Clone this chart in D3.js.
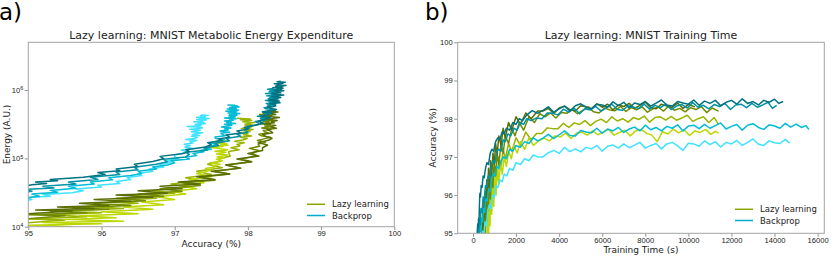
<!DOCTYPE html>
<html>
<head>
<meta charset="utf-8">
<script src="https://d3js.org/d3.v7.min.js"></script>
<style>
body { margin: 0; background: #fff; }
svg { display: block; font-family: "DejaVu Sans", sans-serif; }
</style>
</head>
<body>
<svg id="chart" width="831" height="257"></svg>
<script>
// each run: [training time (s), accuracy (%), energy (thousand A.U.)]
var lazyRun1 = [
	[300, 94.3, 12], [400, 94.8, 15], [450, 95.6, 17], [480, 95.1, 17.5], [510, 95.9, 18.5], [540, 95.4, 19.5],
	[570, 96.1, 20.5], [600, 95.7, 22], [640, 96.4, 23.5], [680, 95.9, 25], [720, 96.7, 27], [770, 96.2, 29],
	[820, 96.9, 31], [870, 96.5, 33.5], [930, 97.1, 36], [990, 96.8, 39], [1050, 97.35, 42], [1120, 97.05, 45],
	[1200, 97.55, 49], [1300, 97.3, 54], [1400, 97.75, 59], [1500, 97.5, 65], [1650, 97.9, 72], [1800, 97.7, 80],
	[2000, 98.05, 89], [2200, 97.85, 98], [2450, 98.15, 108], [2700, 98.0, 118], [3000, 98.2, 130],
	[3250, 98.2, 143], [3500, 98.27, 157], [3750, 98.14, 170], [4000, 98.28, 184], [4250, 98.33, 197],
	[4500, 98.24, 210], [4750, 98.2, 224], [5000, 98.34, 237], [5250, 98.31, 251], [5500, 98.26, 264],
	[5750, 98.39, 277], [6000, 98.3, 291], [6250, 98.38, 304], [6500, 98.23, 318], [6750, 98.36, 331],
	[7000, 98.32, 344], [7250, 98.4, 358], [7500, 98.27, 371], [7750, 98.35, 385], [8000, 98.43, 398],
	[8250, 98.29, 411], [8500, 98.26, 425], [8750, 98.38, 438], [9000, 98.33, 452], [9250, 98.3, 465],
	[9500, 98.41, 478], [9750, 98.27, 492], [10000, 98.37, 505], [10300, 98.31, 520]
];
var lazyRun2 = [
	[350, 94.2, 10], [450, 94.8, 12.5], [520, 95.5, 14.5], [550, 95.0, 15], [590, 95.8, 16], [630, 95.3, 17],
	[670, 96.1, 18], [710, 95.6, 19], [760, 96.4, 20.5], [810, 95.9, 22], [860, 96.6, 24], [920, 96.2, 26],
	[980, 96.85, 28], [1050, 96.5, 30], [1120, 97.1, 33], [1200, 96.8, 36], [1300, 97.35, 40], [1400, 97.1, 44],
	[1500, 97.55, 48], [1650, 97.35, 53], [1800, 97.75, 59], [1950, 97.55, 65], [2150, 97.9, 72], [2350, 97.7, 80],
	[2600, 98.05, 89], [2850, 97.9, 98],
	[3100, 98.13, 109], [3350, 98.05, 119], [3600, 98.15, 130], [3850, 98.02, 140], [4100, 98.16, 151],
	[4350, 98.14, 162], [4600, 98.24, 172], [4850, 98.13, 183], [5100, 98.22, 193], [5350, 98.31, 204],
	[5600, 98.18, 215], [5850, 98.15, 225], [6100, 98.28, 236], [6350, 98.23, 246], [6600, 98.21, 257],
	[6850, 98.32, 267], [7100, 98.19, 278], [7350, 98.29, 289], [7600, 98.23, 299], [7850, 98.31, 310],
	[8100, 98.17, 320], [8350, 98.26, 331], [8600, 98.3, 342], [8850, 98.2, 352], [9100, 98.34, 363],
	[9350, 98.22, 373], [9600, 98.27, 384], [9850, 98.18, 394], [10100, 98.29, 405], [10350, 98.24, 416],
	[10600, 98.32, 426], [10850, 98.16, 437], [11100, 98.28, 447], [11400, 98.2, 460]
];
var lazyRun3 = [
	[400, 94.3, 9], [500, 94.8, 11], [560, 95.5, 12.5], [590, 95.0, 13], [630, 95.8, 14], [670, 95.3, 15],
	[710, 96.0, 16], [760, 95.5, 17], [810, 96.3, 18.5], [860, 95.8, 20], [920, 96.5, 22], [980, 96.1, 24],
	[1050, 96.75, 26], [1120, 96.4, 28.5], [1200, 97.0, 31], [1300, 96.7, 34], [1400, 97.2, 38], [1500, 96.95, 42],
	[1650, 97.35, 47], [1800, 97.15, 52], [2000, 97.5, 58], [2200, 97.3, 65], [2450, 97.65, 73], [2700, 97.45, 82],
	[2950, 97.61, 91], [3200, 97.61, 99], [3450, 97.76, 108], [3700, 97.74, 117], [3950, 97.74, 126],
	[4200, 97.88, 134], [4450, 97.77, 143], [4700, 97.89, 152], [4950, 97.85, 160], [5200, 97.95, 169],
	[5450, 97.82, 178], [5700, 97.93, 186], [5950, 97.99, 195], [6200, 97.9, 204], [6450, 98.05, 213],
	[6700, 97.94, 221], [6950, 98.0, 230], [7200, 97.91, 239], [7450, 98.03, 247], [7700, 97.98, 256],
	[7950, 98.07, 265], [8200, 97.91, 273], [8450, 98.03, 282], [8700, 98.05, 291], [8950, 97.96, 300],
	[9200, 98.06, 308], [9450, 97.96, 317], [9700, 98.02, 326], [9950, 98.09, 334], [10200, 97.93, 343],
	[10450, 98.0, 352], [10700, 98.05, 360], [10950, 97.9, 369], [11200, 98.03, 378], [11400, 97.85, 386]
];
var lazyRun4 = [
	[550, 94.3, 7.5], [650, 94.8, 9], [700, 95.6, 10], [730, 95.0, 10.5], [760, 96.0, 11], [790, 95.2, 11.5],
	[830, 96.3, 12], [870, 95.5, 12.8], [910, 96.2, 13.5], [960, 95.7, 14.5], [1010, 96.5, 15.5], [1070, 96.0, 16.5],
	[1130, 96.7, 18], [1200, 96.3, 19.5], [1280, 96.85, 21], [1360, 96.55, 23], [1450, 97.0, 25], [1550, 96.75, 27.5],
	[1660, 97.15, 30], [1780, 96.95, 33], [1900, 97.3, 36], [2050, 97.1, 40], [2200, 97.4, 44], [2400, 97.2, 49],
	[2600, 97.5, 54], [2800, 97.3, 60],
	[3050, 97.42, 64], [3300, 97.49, 67], [3550, 97.42, 71], [3800, 97.55, 75], [4050, 97.52, 78],
	[4300, 97.62, 82], [4550, 97.48, 86], [4800, 97.62, 90], [5050, 97.65, 93], [5300, 97.57, 97],
	[5550, 97.68, 101], [5800, 97.58, 105], [6050, 97.65, 108], [6300, 97.72, 112], [6550, 97.57, 116],
	[6800, 97.64, 119], [7050, 97.7, 123], [7300, 97.55, 127], [7550, 97.68, 130], [7800, 97.72, 134],
	[8050, 97.62, 138], [8300, 97.57, 142], [8550, 97.4, 145], [8800, 97.66, 149], [9050, 97.6, 153],
	[9300, 97.73, 156], [9550, 97.63, 160], [9800, 97.71, 164], [10050, 97.56, 168], [10300, 97.68, 171],
	[10550, 97.64, 175], [10800, 97.72, 179], [11050, 97.59, 182], [11250, 97.67, 185], [11400, 97.62, 188]
];
var backpropRun1 = [
	[100, 94.2, 30], [160, 94.7, 36], [200, 95.05, 41], [220, 95.25, 43], [240, 95.1, 45], [260, 95.4, 47],
	[280, 95.3, 49], [300, 95.75, 53], [320, 96.05, 58], [350, 95.95, 62], [380, 96.25, 66], [420, 96.2, 70],
	[470, 96.5, 76], [520, 96.45, 82], [580, 96.7, 90], [650, 96.85, 99], [720, 96.8, 107], [800, 97.1, 117],
	[880, 97.2, 126], [960, 97.15, 134], [1050, 97.4, 145], [1150, 97.5, 158], [1250, 97.45, 170], [1350, 97.65, 182],
	[1450, 97.6, 193], [1550, 97.75, 204], [1700, 97.7, 220], [1850, 97.9, 236], [2000, 97.85, 252], [2150, 98.0, 268],
	[2300, 97.95, 284], [2500, 98.1, 305],
	[2750, 98.21, 327], [3000, 98.14, 349], [3250, 98.22, 370], [3500, 98.31, 392], [3750, 98.17, 413],
	[4000, 98.26, 435], [4250, 98.33, 457], [4500, 98.2, 478], [4750, 98.34, 500], [5000, 98.39, 521],
	[5250, 98.3, 543], [5500, 98.26, 565], [5750, 98.38, 586], [6000, 98.36, 608], [6250, 98.3, 629],
	[6500, 98.44, 651], [6750, 98.34, 673], [7000, 98.43, 694], [7250, 98.28, 716], [7500, 98.41, 737],
	[7750, 98.37, 759], [8000, 98.45, 781], [8250, 98.33, 802], [8500, 98.41, 824], [8750, 98.49, 845],
	[9000, 98.36, 867], [9250, 98.33, 889], [9500, 98.45, 910], [9750, 98.41, 932], [10000, 98.38, 953],
	[10250, 98.49, 975], [10500, 98.35, 997], [10750, 98.46, 1018], [11000, 98.4, 1040], [11250, 98.48, 1061],
	[11500, 98.34, 1083], [11750, 98.43, 1105], [12000, 98.48, 1126], [12250, 98.38, 1148], [12500, 98.52, 1169],
	[12750, 98.4, 1191], [13000, 98.45, 1213], [13250, 98.36, 1234], [13500, 98.48, 1256], [13750, 98.43, 1277],
	[14000, 98.51, 1299], [14200, 98.4, 1320], [14400, 98.45, 1350]
];
var backpropRun2 = [
	[100, 94.0, 23], [180, 94.6, 28], [240, 95.05, 33], [270, 94.95, 35], [300, 95.35, 37], [330, 95.2, 39],
	[370, 95.65, 42], [420, 95.55, 45], [470, 95.95, 49], [520, 95.85, 53], [580, 96.25, 58], [640, 96.2, 63],
	[700, 96.5, 68], [770, 96.45, 74], [850, 96.75, 82], [930, 96.9, 89], [1020, 96.85, 97], [1100, 97.15, 105],
	[1200, 97.2, 114], [1300, 97.15, 123], [1400, 97.45, 133], [1500, 97.4, 142], [1620, 97.6, 154], [1750, 97.55, 166],
	[1900, 97.75, 181], [2050, 97.7, 196], [2200, 97.9, 211], [2350, 97.85, 226], [2500, 98.0, 241], [2700, 97.95, 262],
	[2950, 98.02, 279], [3200, 98.0, 296], [3450, 98.15, 313], [3700, 98.14, 330], [3950, 98.1, 347],
	[4200, 98.25, 364], [4450, 98.17, 381], [4700, 98.27, 398], [4950, 98.13, 415], [5200, 98.26, 432],
	[5450, 98.23, 449], [5700, 98.32, 466], [5950, 98.2, 483], [6200, 98.29, 500], [6450, 98.38, 517],
	[6700, 98.24, 534], [6950, 98.22, 551], [7200, 98.34, 568], [7450, 98.3, 585], [7700, 98.27, 602],
	[7950, 98.38, 619], [8200, 98.25, 636], [8450, 98.35, 653], [8700, 98.29, 670], [8950, 98.38, 687],
	[9200, 98.24, 704], [9450, 98.33, 721], [9700, 98.37, 738], [9950, 98.28, 755], [10200, 98.42, 772],
	[10450, 98.3, 789], [10700, 98.35, 806], [10950, 98.26, 823], [11200, 98.37, 840], [11450, 98.32, 857],
	[11700, 98.4, 874], [11950, 98.24, 891], [12200, 98.36, 908], [12450, 98.38, 925], [12700, 98.29, 942],
	[12950, 98.4, 959], [13200, 98.3, 976], [13450, 98.36, 993], [13700, 98.43, 1010], [13900, 98.27, 1030],
	[14100, 98.35, 1050]
];
var backpropRun3 = [
	[150, 94.1, 18], [230, 94.6, 22], [300, 94.95, 26], [330, 95.15, 28], [360, 95.05, 30], [400, 95.4, 32],
	[440, 95.3, 34], [490, 95.65, 36.5], [540, 95.55, 39], [600, 95.9, 42], [660, 95.85, 45], [720, 96.15, 48.5],
	[790, 96.1, 52], [860, 96.4, 56], [940, 96.55, 60], [1020, 96.5, 65], [1110, 96.75, 70], [1200, 96.7, 75],
	[1300, 96.9, 80], [1420, 97.0, 86], [1550, 96.95, 92], [1700, 97.2, 98], [1850, 97.15, 104], [2000, 97.3, 110],
	[2200, 97.25, 118], [2400, 97.4, 125], [2600, 97.35, 130], [2800, 97.5, 136], [3000, 97.42, 141],
	[3250, 97.49, 150], [3500, 97.59, 159], [3750, 97.48, 168], [4000, 97.58, 178], [4250, 97.68, 187],
	[4500, 97.56, 196], [4750, 97.55, 205], [5000, 97.69, 214], [5250, 97.65, 224], [5500, 97.63, 233],
	[5750, 97.75, 242], [6000, 97.62, 251], [6250, 97.73, 260], [6500, 97.68, 270], [6750, 97.77, 279],
	[7000, 97.64, 288], [7250, 97.73, 297], [7500, 97.78, 306], [7750, 97.68, 316], [8000, 97.83, 325],
	[8250, 97.71, 334], [8500, 97.77, 343], [8750, 97.68, 352], [9000, 97.8, 362], [9250, 97.75, 371],
	[9500, 97.84, 380], [9750, 97.68, 389], [10000, 97.81, 398], [10250, 97.83, 408], [10500, 97.74, 417],
	[10750, 97.85, 426], [11000, 97.75, 435], [11250, 97.82, 444], [11500, 97.89, 454], [11750, 97.73, 463],
	[12000, 97.8, 472], [12250, 97.85, 481], [12500, 97.7, 490], [12750, 97.83, 500], [13000, 97.87, 509],
	[13250, 97.77, 518], [13500, 97.72, 527], [13750, 97.84, 536], [14000, 97.81, 546], [14250, 97.75, 555],
	[14500, 97.88, 564], [14750, 97.78, 573], [15000, 97.86, 582], [15250, 97.77, 592], [15450, 97.82, 598],
	[15600, 97.72, 605]
];
var backpropRun4 = [
	[250, 94.2, 17], [380, 94.75, 22], [450, 95.05, 25], [500, 94.95, 26.5], [560, 95.3, 28], [620, 95.2, 29.5],
	[690, 95.6, 31.5], [760, 95.75, 33.5], [830, 95.65, 35.5], [910, 96.0, 38], [990, 95.95, 40.5], [1070, 96.25, 43],
	[1160, 96.2, 46], [1250, 96.4, 49], [1350, 96.35, 52.5], [1450, 96.55, 56], [1570, 96.5, 60], [1700, 96.7, 65],
	[1850, 96.65, 70], [2000, 96.85, 75], [2200, 96.8, 81], [2400, 96.95, 87], [2600, 96.9, 93], [2800, 97.05, 99],
	[3000, 97.0, 105],
	[3250, 97.0, 112], [3500, 97.11, 119], [3750, 97.17, 126], [4000, 97.09, 133], [4250, 97.25, 140],
	[4500, 97.14, 147], [4750, 97.21, 154], [5000, 97.13, 161], [5250, 97.25, 168], [5500, 97.21, 175],
	[5750, 97.3, 182], [6000, 97.15, 189], [6250, 97.28, 196], [6500, 97.31, 203], [6750, 97.23, 210],
	[7000, 97.34, 217], [7250, 97.24, 224], [7500, 97.31, 231], [7750, 97.38, 238], [8000, 97.23, 245],
	[8250, 97.3, 252], [8500, 97.35, 259], [8750, 97.21, 266], [9000, 97.34, 273], [9250, 97.38, 280],
	[9500, 97.29, 287], [9750, 97.17, 294], [10000, 97.36, 301], [10250, 97.34, 308], [10500, 97.28, 315],
	[10750, 97.42, 322], [11000, 97.32, 329], [11250, 97.4, 336], [11500, 97.26, 343], [11750, 97.38, 350],
	[12000, 97.34, 357], [12250, 97.43, 364], [12500, 97.3, 371], [12750, 97.38, 378], [13000, 97.47, 385],
	[13250, 97.33, 392], [13500, 97.3, 399], [13750, 97.42, 406], [14000, 97.37, 413], [14250, 97.35, 420],
	[14500, 97.46, 426], [14700, 97.36, 430]
];

var lazyRuns = [lazyRun3, lazyRun4, lazyRun2, lazyRun1];
var lazyColors = ["#9ab300", "#bcd700", "#718b00", "#5a6e00"];
var backpropRuns = [backpropRun4, backpropRun3, backpropRun2, backpropRun1];
var backpropColors = ["#3fe2ff", "#00bcd6", "#0092a5", "#007383"];

var legendNames = ["Lazy learning", "Backprop"];
var legendColors = ["#8ca300", "#00aecb"];

var energyTicks = [1e4, 1e5, 1e6];
var accuracyTicksA = [95, 96, 97, 98, 99, 100];
var accuracyTicksB = [95, 96, 97, 98, 99, 100];
var timeTicks = [0, 2000, 4000, 6000, 8000, 10000, 12000, 14000, 16000];

var svg = d3.select("#chart");

var spineColor = "#a3a3a3",
	tickColor = "#777",
	textColor = "#222";

// panel frames
var boxA = { left: 28.3, right: 394.3, top: 42.3, bottom: 226.7 };
var boxB = { left: 457.7, right: 824.3, top: 42.3, bottom: 233.3 };

var xA = d3.scaleLinear().domain([95, 100]).range([boxA.left, boxA.right]);
var yA = d3.scaleLog().domain([1e4, 5.0e6]).range([boxA.bottom, boxA.top]);
var xB = d3.scaleLinear().domain([-710, 16310]).range([boxB.left, boxB.right]);
var yB = d3.scaleLinear().domain([95, 100]).range([boxB.bottom, boxB.top]);

function clipFor(id, box) {
	svg.append("clipPath").attr("id", id)
		.append("rect")
		.attr("x", box.left).attr("y", box.top)
		.attr("width", box.right - box.left).attr("height", box.bottom - box.top);
	return "url(#" + id + ")";
}

function styleAxis(g) {
	g.select(".domain").remove();
	g.selectAll(".tick line").attr("stroke", tickColor).attr("stroke-width", 0.8);
	g.selectAll(".tick text").attr("fill", textColor).attr("font-size", 7.6);
}

function frame(box) {
	svg.append("rect")
		.attr("x", box.left).attr("y", box.top)
		.attr("width", box.right - box.left).attr("height", box.bottom - box.top)
		.attr("fill", "none").attr("stroke", spineColor).attr("stroke-width", 1);
}

function drawRuns(g, runs, colors, line) {
	runs.forEach(function (run, i) {
		g.append("path")
			.datum(run)
			.attr("fill", "none")
			.attr("stroke", colors[i])
			.attr("stroke-width", 1.5)
			.attr("stroke-linejoin", "round")
			.attr("d", line);
	});
}

function legend(x, y) {
	legendNames.forEach(function (name, i) {
		var ly = y + i * 11.2;
		svg.append("line")
			.attr("x1", x).attr("x2", x + 18)
			.attr("y1", ly).attr("y2", ly)
			.attr("stroke", legendColors[i]).attr("stroke-width", 1.5);
		svg.append("text")
			.attr("x", x + 25).attr("y", ly + 3.1)
			.attr("font-size", 8.5).attr("fill", textColor)
			.text(name);
	});
}

// ---- panel a: energy vs accuracy
var lineA = d3.line()
	.x(function (d) { return xA(d[1]); })
	.y(function (d) { return yA(d[2] * 1000); });

var gA = svg.append("g").attr("clip-path", clipFor("clipA", boxA));
drawRuns(gA, lazyRuns, lazyColors, lineA);
drawRuns(gA, backpropRuns, backpropColors, lineA);

svg.append("g")
	.attr("transform", "translate(0," + boxA.bottom + ")")
	.call(d3.axisBottom(xA).tickValues(accuracyTicksA).tickSize(3.5).tickPadding(0.5).tickFormat(d3.format("d")))
	.call(styleAxis);

var yAxisA = svg.append("g")
	.attr("transform", "translate(" + boxA.left + ",0)")
	.call(d3.axisLeft(yA).tickValues(energyTicks).tickSize(3.5).tickPadding(1.5).tickFormat(function () { return ""; }))
	.call(styleAxis);

yAxisA.selectAll(".tick text").each(function (d) {
	var t = d3.select(this);
	t.append("tspan").text("10");
	t.append("tspan").attr("dy", "-0.45em").attr("font-size", 5.6).text(Math.round(Math.log10(d)));
});

frame(boxA);

svg.append("text")
	.attr("x", (boxA.left + boxA.right) / 2).attr("y", 38.5)
	.attr("text-anchor", "middle").attr("font-size", 11).attr("fill", textColor)
	.text("Lazy learning: MNIST Metabolic Energy Expenditure");

svg.append("text")
	.attr("x", (boxA.left + boxA.right) / 2).attr("y", 246.5)
	.attr("text-anchor", "middle").attr("font-size", 9).attr("fill", textColor)
	.text("Accuracy (%)");

svg.append("text")
	.attr("transform", "translate(9.5," + (boxA.top + boxA.bottom) / 2 + ") rotate(-90)")
	.attr("text-anchor", "middle").attr("font-size", 9).attr("fill", textColor)
	.text("Energy (A.U.)");

legend(307, 204.3);

svg.append("text")
	.attr("x", -1).attr("y", 20)
	.attr("font-size", 23).attr("fill", "#000")
	.text("a)");

// ---- panel b: accuracy vs training time
var lineB = d3.line()
	.x(function (d) { return xB(d[0]); })
	.y(function (d) { return yB(d[1]); });

var gB = svg.append("g").attr("clip-path", clipFor("clipB", boxB));
drawRuns(gB, lazyRuns, lazyColors, lineB);
drawRuns(gB, backpropRuns, backpropColors, lineB);

svg.append("g")
	.attr("transform", "translate(0," + boxB.bottom + ")")
	.call(d3.axisBottom(xB).tickValues(timeTicks).tickSize(3.5).tickPadding(0.5).tickFormat(d3.format("d")))
	.call(styleAxis);

svg.append("g")
	.attr("transform", "translate(" + boxB.left + ",0)")
	.call(d3.axisLeft(yB).tickValues(accuracyTicksB).tickSize(3.5).tickPadding(1.5).tickFormat(d3.format("d")))
	.call(styleAxis);

frame(boxB);

svg.append("text")
	.attr("x", (boxB.left + boxB.right) / 2).attr("y", 38.5)
	.attr("text-anchor", "middle").attr("font-size", 11).attr("fill", textColor)
	.text("Lazy learning: MNIST Training Time");

svg.append("text")
	.attr("x", (boxB.left + boxB.right) / 2).attr("y", 252.5)
	.attr("text-anchor", "middle").attr("font-size", 9).attr("fill", textColor)
	.text("Training Time (s)");

svg.append("text")
	.attr("transform", "translate(436," + (boxB.top + boxB.bottom) / 2 + ") rotate(-90)")
	.attr("text-anchor", "middle").attr("font-size", 9).attr("fill", textColor)
	.text("Accuracy (%)");

legend(735, 209.3);

svg.append("text")
	.attr("x", 425).attr("y", 20)
	.attr("font-size", 23).attr("fill", "#000")
	.text("b)");
</script>
</body>
</html>
